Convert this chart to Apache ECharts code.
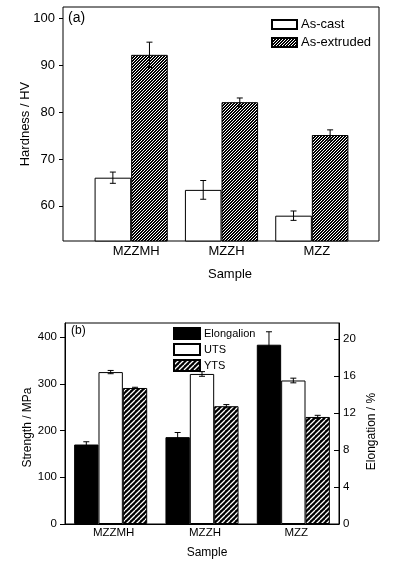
<!DOCTYPE html>
<html>
<head>
<meta charset="utf-8">
<script src="https://cdn.jsdelivr.net/npm/echarts@6/dist/echarts.min.js"></script>
<style>
html, body { margin: 0; padding: 0; background: #fff; }
#chart_con { width: 396px; height: 564px; }
</style>
</head>
<body>
<div id="chart_con"></div>
<script>
// samples on both panels
var samples = ['MZZMH', 'MZZH', 'MZZ'];

// (a) hardness
var hvCast = [66.0, 63.4, 57.9];
var hvCastErr = [1.2, 2.0, 1.0];
var hvExtruded = [92.2, 82.1, 75.1];
var hvExtrudedErr = [2.7, 0.9, 1.1];
var hvTicks = [60, 70, 80, 90, 100];

// (b) tensile
var elongation = [8.6, 9.4, 19.4];
var elongationErr = [0.3, 0.5, 1.4];
var uts = [325, 321, 307];
var utsErr = [3.5, 5, 5];
var yts = [291, 252, 229];
var ytsErr = [1.5, 3.5, 3.5];
var strengthTicks = [0, 100, 200, 300, 400];
var elongTicks = [0, 4, 8, 12, 16, 20];

var FONT = '"Liberation Sans", Arial, sans-serif';

// diagonal white-on-black hatch tile
function hatch(p, lw) {
    var c = document.createElement('canvas');
    c.width = p; c.height = p;
    var g = c.getContext('2d');
    g.fillStyle = '#000';
    g.fillRect(0, 0, p, p);
    g.strokeStyle = '#fff';
    g.lineWidth = lw;
    g.beginPath();
    for (var k = -1; k <= 1; k++) {
        g.moveTo(k * p, p);
        g.lineTo(k * p + p, 0);
    }
    g.stroke();
    return c;
}

function withErr(vals, errs) {
    var out = [];
    for (var i = 0; i < vals.length; i++) {
        out.push([i, vals[i], errs[i]]);
    }
    return out;
}

function errBars(count, pos, gap) {
    return function (params, api) {
        var idx = api.value(0), v = api.value(1), e = api.value(2);
        var lay = api.barLayout({ count: count, barGap: '0%', barCategoryGap: gap });
        var hi = api.coord([idx, v + e]);
        var lo = api.coord([idx, v - e]);
        var x = hi[0] + lay[pos].offsetCenter;
        var st = { stroke: '#000', lineWidth: 1 };
        return {
            type: 'group',
            children: [
                { type: 'line', shape: { x1: x, y1: hi[1], x2: x, y2: lo[1] }, style: st },
                { type: 'line', shape: { x1: x - 3, y1: hi[1], x2: x + 3, y2: hi[1] }, style: st },
                { type: 'line', shape: { x1: x - 3, y1: lo[1], x2: x + 3, y2: lo[1] }, style: st }
            ]
        };
    };
}

var denseHatch = { image: hatch(3, 1), repeat: 'repeat' };
var wideHatch = { image: hatch(5, 1.3), repeat: 'repeat' };

var option = {
    backgroundColor: '#fff',
    animation: false,
    textStyle: { fontFamily: FONT, color: '#000' },
    title: [
        { text: '(a)', left: 68, top: 11, padding: 0,
          textStyle: { fontFamily: FONT, fontSize: 14, fontWeight: 'normal', color: '#000' } },
        { text: '(b)', left: 71, top: 325, padding: 0,
          textStyle: { fontFamily: FONT, fontSize: 12, fontWeight: 'normal', color: '#000' } }
    ],
    legend: [
        {
            data: ['As-cast', 'As-extruded'],
            orient: 'vertical', left: 271, top: 18, padding: 0,
            itemWidth: 25, itemHeight: 9, itemGap: 5,
            icon: 'rect',
            textStyle: { fontFamily: FONT, fontSize: 13, lineHeight: 13, color: '#000', padding: [0, 0, 0, -1] }
        },
        {
            data: ['Elongalion', 'UTS', 'YTS'],
            orient: 'vertical', left: 173, top: 327, padding: 0,
            itemWidth: 26, itemHeight: 11, itemGap: 3,
            icon: 'rect',
            textStyle: { fontFamily: FONT, fontSize: 11, lineHeight: 11, color: '#000', padding: [0, 0, 0, -1] }
        }
    ],
    grid: [
        { left: 86, top: 7, width: 271, height: 234 },
        { left: 63, top: 7, width: 316, height: 234, show: true, borderColor: '#000', borderWidth: 1, backgroundColor: 'transparent' },
        { left: 65, top: 323, width: 274, height: 201, show: true, borderColor: '#000', borderWidth: 1, backgroundColor: 'transparent' }
    ],
    xAxis: [
        {
            gridIndex: 0, type: 'category', data: samples,
            axisLine: { show: false }, axisTick: { show: false },
            axisLabel: { fontFamily: FONT, fontSize: 13, color: '#000', margin: 4, padding: [0, 0, 0, 10] },
            name: 'Sample', nameLocation: 'middle', nameGap: 27,
            nameTextStyle: { fontFamily: FONT, fontSize: 13, color: '#000', padding: [0, 0, 0, 17] }
        },
        { gridIndex: 1, type: 'value', show: false },
        {
            gridIndex: 2, type: 'category', data: samples,
            axisLine: { show: true, lineStyle: { color: '#000' } }, axisTick: { show: false },
            axisLabel: { fontFamily: FONT, fontSize: 11.5, color: '#000', margin: 3, padding: [0, 0, 0, 6] },
            name: 'Sample', nameLocation: 'middle', nameGap: 23,
            nameTextStyle: { fontFamily: FONT, fontSize: 12, color: '#000', padding: [0, 0, 0, 10] }
        }
    ],
    yAxis: [
        {
            gridIndex: 0, type: 'value', min: 52.5, max: 102.4, offset: 23,
            axisLine: { show: false },
            axisTick: { show: true, inside: false, length: 4, customValues: hvTicks, lineStyle: { color: '#000' } },
            axisLabel: { fontFamily: FONT, fontSize: 13, color: '#000', margin: 8, customValues: hvTicks },
            splitLine: { show: false },
            name: 'Hardness / HV', nameLocation: 'middle', nameGap: 31, nameRotate: 90, nameMoveOverlap: false,
            nameTextStyle: { fontFamily: FONT, fontSize: 13, color: '#000' }
        },
        { gridIndex: 1, type: 'value', show: false },
        {
            gridIndex: 2, type: 'value', min: 0, max: 430,
            axisLine: { show: true, lineStyle: { color: '#000' } },
            axisTick: { show: true, inside: false, length: 5, customValues: strengthTicks, lineStyle: { color: '#000' } },
            axisLabel: { fontFamily: FONT, fontSize: 11.5, color: '#000', margin: 8, customValues: strengthTicks },
            splitLine: { show: false },
            name: 'Strength / MPa', nameLocation: 'middle', nameGap: 31, nameRotate: 90, nameMoveOverlap: false,
            nameTextStyle: { fontFamily: FONT, fontSize: 12, color: '#000', padding: [0, 8, 0, 0] }
        },
        {
            gridIndex: 2, type: 'value', position: 'right', min: 0, max: 21.75,
            axisLine: { show: true, lineStyle: { color: '#000' } },
            axisTick: { show: true, inside: true, length: 5, customValues: elongTicks, lineStyle: { color: '#000' } },
            axisLabel: { fontFamily: FONT, fontSize: 11.5, color: '#000', margin: 4, customValues: elongTicks },
            splitLine: { show: false },
            name: 'Elongation / %', nameLocation: 'middle', nameGap: 27, nameRotate: 90, nameMoveOverlap: false,
            nameTextStyle: { fontFamily: FONT, fontSize: 12, color: '#000', padding: [0, 16, 0, 0] }
        }
    ],
    series: [
        {
            name: 'As-cast', type: 'bar', xAxisIndex: 0, yAxisIndex: 0,
            barGap: '0%', barCategoryGap: '19%',
            itemStyle: { color: '#fff', borderColor: '#000', borderWidth: 1 },
            data: hvCast
        },
        {
            name: 'As-extruded', type: 'bar', xAxisIndex: 0, yAxisIndex: 0,
            barGap: '0%', barCategoryGap: '19%',
            itemStyle: { color: denseHatch, borderColor: '#000', borderWidth: 1 },
            data: hvExtruded
        },
        {
            type: 'custom', xAxisIndex: 0, yAxisIndex: 0, z: 5,
            renderItem: errBars(2, 0, '19%'), encode: { x: 0, y: 1 },
            data: withErr(hvCast, hvCastErr)
        },
        {
            type: 'custom', xAxisIndex: 0, yAxisIndex: 0, z: 5,
            renderItem: errBars(2, 1, '19%'), encode: { x: 0, y: 1 },
            data: withErr(hvExtruded, hvExtrudedErr)
        },
        {
            name: 'Elongalion', type: 'bar', xAxisIndex: 2, yAxisIndex: 3,
            barGap: '0%', barCategoryGap: '20%',
            itemStyle: { color: '#000', borderColor: '#000', borderWidth: 1 },
            data: elongation
        },
        {
            name: 'UTS', type: 'bar', xAxisIndex: 2, yAxisIndex: 2,
            barGap: '0%', barCategoryGap: '20%',
            itemStyle: { color: '#fff', borderColor: '#000', borderWidth: 1 },
            data: uts
        },
        {
            name: 'YTS', type: 'bar', xAxisIndex: 2, yAxisIndex: 2,
            barGap: '0%', barCategoryGap: '20%',
            itemStyle: { color: wideHatch, borderColor: '#000', borderWidth: 1 },
            data: yts
        },
        {
            type: 'custom', xAxisIndex: 2, yAxisIndex: 3, z: 5,
            renderItem: errBars(3, 0, '20%'), encode: { x: 0, y: 1 },
            data: withErr(elongation, elongationErr)
        },
        {
            type: 'custom', xAxisIndex: 2, yAxisIndex: 2, z: 5,
            renderItem: errBars(3, 1, '20%'), encode: { x: 0, y: 1 },
            data: withErr(uts, utsErr)
        },
        {
            type: 'custom', xAxisIndex: 2, yAxisIndex: 2, z: 5,
            renderItem: errBars(3, 2, '20%'), encode: { x: 0, y: 1 },
            data: withErr(yts, ytsErr)
        }
    ]
};

var chart = echarts.init(document.getElementById('chart_con'));
chart.setOption(option);

window.addEventListener('resize', function () {
    chart.resize();
});
</script>
</body>
</html>
